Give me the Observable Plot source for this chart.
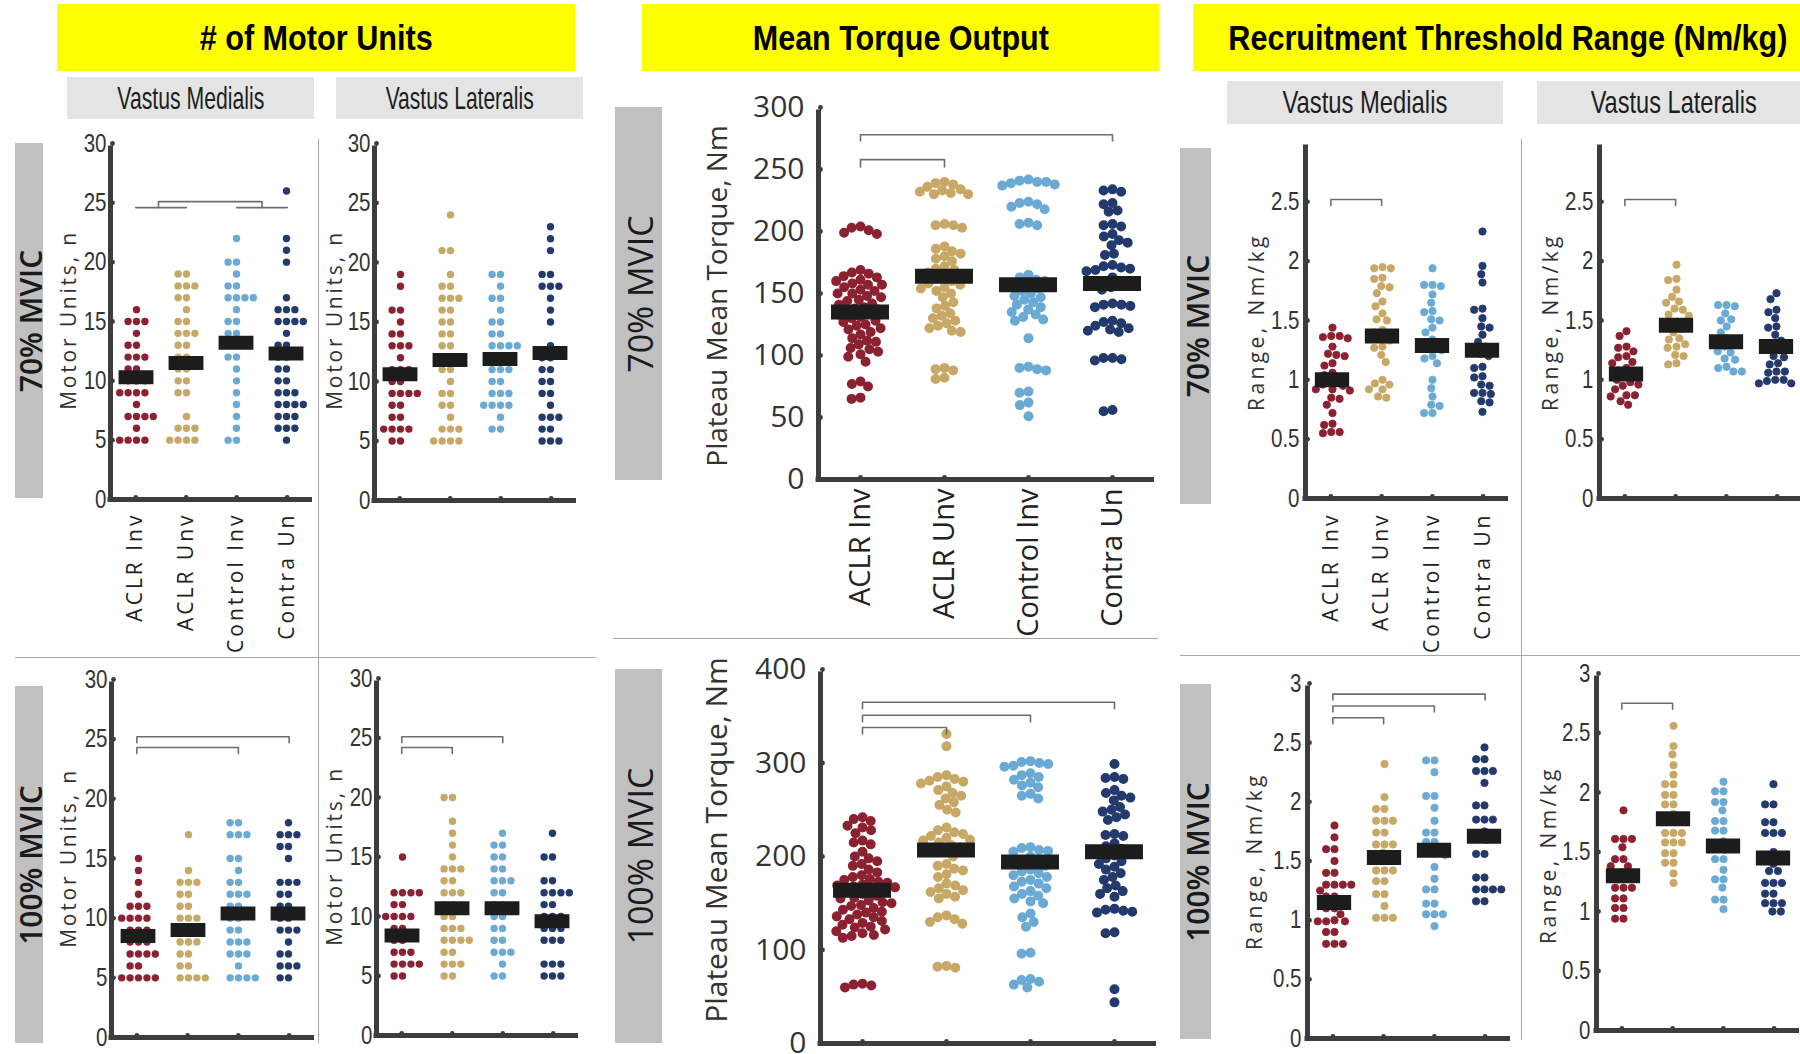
<!DOCTYPE html>
<html><head><meta charset="utf-8">
<script src="https://cdn.jsdelivr.net/npm/d3@7"></script>
<script src="https://cdn.jsdelivr.net/npm/@observablehq/plot@0.6"></script>
<style>
body{margin:0;background:#fff;}
#root{position:relative;width:1800px;height:1054px;overflow:hidden;background:#fff;font-family:"Open Sans",sans-serif;}
.hdr{position:absolute;background:#ffff00;display:flex;align-items:center;justify-content:center;white-space:nowrap;}
.hdr span{display:inline-block;font-family:"Liberation Sans Narrow","Liberation Sans",Arial,sans-serif;font-weight:bold;font-size:35px;color:#000;}
.sub{position:absolute;background:#e4e4e4;display:flex;align-items:center;justify-content:center;white-space:nowrap;overflow:visible;}
.sub span{display:inline-block;font-family:"Liberation Sans Narrow","Liberation Sans",sans-serif;font-size:32px;color:#1e1e1e;}
.rowbox{position:absolute;background:#c0c0c0;}
.rot{position:absolute;white-space:nowrap;transform:translate(-50%,-50%) rotate(-90deg);}
.sep{position:absolute;background:#a8a8a8;}
.pl{position:absolute;}
.pl svg{overflow:visible;max-width:none;background:transparent;}
</style></head>
<body><div id="root"></div>
<script>
// ---------- data ----------
const groups = ["ACLR Inv", "ACLR Unv", "Control Inv", "Contra Un"];
const groupColors = ["#8c2131", "#c8a866", "#6aaad5", "#243a6d"];

// # of motor units, 70% MVIC
const mu70VM = [
  [16,15,15,15,14,13,13,12,12,12,11,11,10,10,10,9,9,9,9,8,7,7,7,7,6,5,5,5,5],
  [19,19,18,18,18,17,17,16,15,15,14,14,14,13,13,12,12,11,11,10,10,9,9,7,6,6,6,5,5,5,5],
  [22,20,20,19,18,18,17,17,17,17,16,15,15,14,14,13,13,13,12,12,11,10,9,8,7,6,5,5],
  [26,22,21,20,17,16,16,16,15,15,15,15,14,13,13,12,12,11,11,10,10,9,9,9,8,8,8,8,7,7,7,6,6,6,5]
];
const mu70VL = [
  [19,18,16,16,15,14,14,13,13,13,12,11,11,11,10,10,9,9,9,9,8,8,7,7,6,6,6,6,5,5],
  [24,21,21,19,18,18,17,17,17,16,16,15,15,14,14,13,13,12,11,11,10,9,9,8,8,7,6,6,6,5,5,5,5],
  [19,19,18,17,17,16,15,15,14,14,13,13,13,13,12,12,11,11,11,10,10,9,9,9,8,8,8,8,7,6,6],
  [23,22,21,19,19,18,18,18,17,16,15,13,12,12,11,11,10,10,9,9,8,7,7,7,6,6,5,5,5]
];
// # of motor units, 100% MVIC
const mu100VM = [
  [15,14,13,12,11,11,11,10,10,10,10,9,9,9,8,8,8,7,7,7,7,6,6,5,5,5,5,5],
  [17,14,13,13,13,12,12,11,11,10,10,10,9,9,9,8,8,8,7,7,6,6,5,5,5,5],
  [18,18,17,17,17,15,15,14,13,13,12,12,12,11,11,10,10,9,9,8,8,8,7,7,7,6,5,5,5,5],
  [18,17,17,17,16,16,15,13,13,13,12,12,11,11,10,10,9,9,9,8,7,7,6,6,6,5,5]
];
const mu100VL = [
  [15,12,12,12,12,11,11,10,10,10,10,9,9,8,8,7,7,7,6,6,6,6,5,5],
  [20,20,18,17,16,15,14,14,14,13,13,12,12,12,11,11,10,10,9,9,9,8,8,8,8,7,7,6,6,6,5,5],
  [17,16,16,15,15,14,14,13,13,13,12,12,11,11,10,10,9,9,8,8,7,7,7,6,5,5],
  [17,15,15,13,13,12,12,12,12,11,11,10,10,10,9,9,9,8,8,8,6,6,6,5,5,5]
];
// plateau mean torque (Nm)
const tq70 = [
  [204,203,201,199,198,169,167,166,164,163,161,160,158,157,157,155,153,152,150,150,148,147,145,144,142,141,139,138,137,136,134,133,131,130,128,127,125,124,122,121,119,117,114,112,111,109,106,105,103,101,99,95,79,77,75,66,65],
  [240,239,238,236,234,233,232,231,230,230,206,205,205,203,188,186,184,182,180,178,176,172,170,169,167,166,164,162,160,158,157,155,154,152,150,147,143,140,138,134,132,130,128,126,124,122,120,119,90,89,88,82,81],
  [242,241,240,240,239,238,237,224,223,222,220,218,207,206,205,165,163,161,160,158,157,155,154,152,150,148,147,145,143,141,139,137,135,133,131,129,128,114,91,90,89,88,71,70,62,60,51],
  [234,233,232,223,222,217,216,206,205,204,198,196,193,191,189,182,181,173,172,171,170,169,168,163,160,158,156,155,153,142,141,141,140,139,128,127,126,124,122,121,120,119,98,98,97,96,56,55]
];
const tq100 = [
  [242,240,238,233,231,228,225,217,215,213,205,200,198,195,192,190,186,183,180,178,176,175,173,172,170,169,168,167,165,162,160,158,156,155,153,151,150,148,147,145,143,141,140,138,136,135,133,131,129,127,125,124,122,120,118,116,115,113,64,63,62,60],
  [331,318,287,285,283,281,280,278,275,271,268,265,262,258,255,250,247,231,228,226,224,222,220,218,217,215,212,210,205,200,192,190,187,185,181,178,171,169,166,164,162,160,157,155,137,135,133,130,128,83,82,81],
  [302,301,300,299,297,296,289,287,285,282,279,276,274,267,265,262,210,209,207,206,205,200,196,193,190,186,184,182,180,178,175,173,171,168,166,163,160,158,155,152,150,139,135,130,125,97,96,69,68,66,63,60],
  [299,285,284,283,271,268,265,263,260,253,250,248,245,242,239,224,223,222,214,211,208,205,201,198,195,192,189,186,182,178,175,169,166,163,160,157,144,143,142,141,140,119,118,58,44]
];
// recruitment threshold range (Nm/kg)
const rt70VM = [
  [1.44,1.37,1.37,1.36,1.35,1.28,1.22,1.21,1.20,1.14,1.12,1.06,1.04,1.01,0.99,0.96,0.95,0.92,0.92,0.91,0.85,0.84,0.79,0.72,0.63,0.62,0.56,0.56,0.55],
  [1.95,1.94,1.94,1.86,1.85,1.79,1.78,1.73,1.66,1.62,1.56,1.51,1.50,1.42,1.40,1.35,1.33,1.28,1.27,1.21,1.15,1.00,0.97,0.96,0.92,0.92,0.86,0.85],
  [1.94,1.80,1.80,1.79,1.72,1.65,1.58,1.57,1.51,1.50,1.44,1.40,1.34,1.30,1.27,1.25,1.20,1.18,1.14,1.00,0.93,0.86,0.79,0.78,0.72,0.72],
  [2.25,1.96,1.89,1.82,1.60,1.59,1.52,1.45,1.44,1.38,1.32,1.28,1.22,1.20,1.11,1.10,1.03,1.02,0.96,0.95,0.89,0.89,0.88,0.82,0.81,0.73]
];
const rt70VL = [
  [1.41,1.37,1.28,1.27,1.24,1.20,1.19,1.15,1.14,1.10,1.08,1.05,1.03,1.00,0.98,0.96,0.95,0.92,0.87,0.87,0.86,0.82,0.79],
  [1.97,1.85,1.84,1.76,1.70,1.66,1.65,1.60,1.59,1.55,1.54,1.49,1.47,1.43,1.40,1.35,1.34,1.30,1.28,1.27,1.21,1.20,1.14,1.13],
  [1.63,1.63,1.62,1.56,1.51,1.50,1.45,1.40,1.35,1.33,1.30,1.28,1.24,1.23,1.18,1.17,1.11,1.10,1.07,1.07],
  [1.73,1.68,1.59,1.57,1.52,1.45,1.44,1.38,1.33,1.30,1.25,1.20,1.19,1.14,1.13,1.07,1.07,1.06,1.00,1.00,0.99,0.97,0.97]
];
const rt100VM = [
  [1.80,1.70,1.60,1.60,1.50,1.40,1.40,1.30,1.30,1.30,1.30,1.25,1.20,1.20,1.10,1.10,1.05,1.00,0.99,0.99,0.99,0.90,0.90,0.80,0.80,0.80],
  [2.32,2.04,1.94,1.94,1.84,1.84,1.84,1.74,1.74,1.64,1.64,1.64,1.57,1.52,1.50,1.42,1.42,1.42,1.33,1.33,1.22,1.22,1.12,1.02,1.02,1.02],
  [2.35,2.35,2.25,2.05,2.05,1.95,1.84,1.74,1.74,1.66,1.66,1.60,1.58,1.55,1.45,1.35,1.26,1.26,1.14,1.14,1.05,1.05,1.05,0.95],
  [2.46,2.36,2.36,2.26,2.26,2.26,2.16,1.97,1.97,1.85,1.85,1.85,1.75,1.70,1.68,1.56,1.56,1.36,1.36,1.26,1.26,1.26,1.26,1.16,1.16]
];
const rt100VL = [
  [1.85,1.61,1.61,1.61,1.54,1.44,1.44,1.38,1.38,1.33,1.30,1.27,1.20,1.20,1.20,1.11,1.11,1.03,1.03,0.94,0.94],
  [2.56,2.39,2.32,2.23,2.15,2.07,2.07,1.98,1.98,1.90,1.90,1.82,1.78,1.75,1.66,1.66,1.66,1.58,1.58,1.58,1.49,1.49,1.41,1.41,1.32,1.24],
  [2.09,2.01,2.01,1.92,1.92,1.85,1.76,1.76,1.68,1.68,1.59,1.55,1.52,1.44,1.44,1.35,1.27,1.27,1.20,1.10,1.10,1.02],
  [2.07,1.90,1.90,1.75,1.75,1.66,1.66,1.66,1.50,1.45,1.40,1.34,1.34,1.24,1.24,1.24,1.15,1.15,1.07,1.07,1.07,1.00,1.00]
];

// group means and mean±SD ends [mean, low, high] per group
const mu70VMStats  = [[10.3,6.8,13.8],[11.5,6.6,16.2],[13.2,9.0,17.4],[12.3,7.7,17.2]];
const mu70VLStats  = [[10.6,7.1,14.0],[11.8,6.7,16.5],[11.9,8.1,15.5],[12.4,7.3,17.7]];
const mu100VMStats = [[8.5,6.0,11.1],[9.0,6.0,11.9],[10.4,6.4,14.3],[10.4,6.6,14.3]];
const mu100VLStats = [[8.4,6.1,10.7],[10.7,6.9,14.4],[10.7,7.1,14.0],[9.6,6.6,12.8]];
const tq70Stats    = [[135,104,166],[164,126,203],[157,107,206],[158,114,202]];
const tq100Stats   = [[164,121,205],[207,151,262],[194,130,258],[205,151,260]];
const rt70VMStats  = [[1.00,0.75,1.24],[1.37,1.04,1.70],[1.29,0.99,1.59],[1.25,0.90,1.59]];
const rt70VLStats  = [[1.05,0.90,1.20],[1.46,1.25,1.66],[1.32,1.17,1.46],[1.28,1.07,1.49]];
const rt100VMStats = [[1.15,0.88,1.42],[1.53,1.23,1.83],[1.59,1.19,2.00],[1.71,1.33,2.09]];
const rt100VLStats = [[1.30,1.11,1.48],[1.78,1.46,2.10],[1.55,1.27,1.83],[1.45,1.20,1.70]];

// significance brackets: [from group, to group, bracket height, leg end]
const mu70VMBr  = [[0,1,24.6,24.6],[2,3,24.6,24.6],[0.45,2.5,25.1,24.6]];
const mu100VMBr = [[0,2,24.3,23.8],[0,3,25.2,24.7]];
const mu100VLBr = [[0,1,24.2,23.7],[0,2,25.1,24.6]];
const tq70Br    = [[0,3,278,273],[0,1,258,252]];
const tq100Br   = [[0,3,365,358],[0,2,351,344],[0,1,338,331]];
const rt70VMBr  = [[0,1,2.52,2.47]];
const rt70VLBr  = [[0,1,2.52,2.47]];
const rt100VMBr = [[0,3,2.91,2.86],[0,2,2.81,2.76],[0,1,2.71,2.66]];
const rt100VLBr = [[0,1,2.75,2.70]];

const muTicks = [0,5,10,15,20,25,30];
const tq70Ticks = [0,50,100,150,200,250,300];
const tq100Ticks = [0,100,200,300,400];
const rt70Ticks = [0,0.5,1,1.5,2,2.5];
const rt100Ticks = [0,0.5,1,1.5,2,2.5,3];

// ---------- font check ----------
const cv = document.createElement("canvas").getContext("2d");
cv.font = "24px 'Liberation Sans Narrow', monospace";
const wN = cv.measureText("0123456789").width;
cv.font = "24px monospace";
const wM = cv.measureText("0123456789").width;
const hasNarrow = Math.abs(wN - wM) > 0.5;
const narrow = hasNarrow ? "'Liberation Sans Narrow',sans-serif" : "'Liberation Sans',sans-serif";
const narrowScale = hasNarrow ? 1 : 0.82;

// ---------- layout ----------
const root = document.getElementById("root");
function div(cls, css, html) {
  const d = document.createElement("div");
  d.className = cls;
  Object.assign(d.style, css);
  if (html != null) d.innerHTML = html;
  root.appendChild(d);
  return d;
}
const px = v => v + "px";
function fitSpan(d, target) {
  const s = d.querySelector("span");
  const real = s.getBoundingClientRect().width;
  s.style.transform = `scaleX(${(target / real).toFixed(3)})`;
}

// separators
div("sep", {left: px(318), top: px(139), width: "1px", height: px(904)});
div("sep", {left: px(15), top: px(657), width: px(581), height: "1px"});
div("sep", {left: px(613), top: px(638), width: px(545), height: "1px"});
div("sep", {left: px(1521), top: px(139), width: "1px", height: px(901)});
div("sep", {left: px(1180), top: px(655), width: px(620), height: "1px"});

// headers
const hdrs = [
  [57, 4, 518, 67, "# of Motor Units", 233],
  [642, 4, 517, 67, "Mean Torque Output", 296],
  [1193, 4, 630, 67, "Recruitment Threshold Range (Nm/kg)", 559]
];
for (const [x, y, w, h, t, tw] of hdrs) {
  const d = div("hdr", {left: px(x), top: px(y), width: px(w), height: px(h)}, `<span>${t}</span>`);
  fitSpan(d, tw);
}

// muscle sub-headers
const subs = [
  [67, 77, 247, 42, "Vastus Medialis", 147],
  [336, 77, 247, 42, "Vastus Lateralis", 148],
  [1227, 81, 276, 43, "Vastus Medialis", 165],
  [1537, 81, 274, 43, "Vastus Lateralis", 166]
];
for (const [x, y, w, h, t, tw] of subs) {
  const d = div("sub", {left: px(x), top: px(y), width: px(w), height: px(h)}, `<span>${t}</span>`);
  fitSpan(d, tw);
}

// row labels
const rows = [
  [15, 143, 28, 355, "70% MVIC", 30, 600],
  [15, 686, 28, 357, "100% MVIC", 30, 600],
  [615, 107, 47, 373, "70% MVIC", 34, 400],
  [615, 669, 47, 374, "100% MVIC", 34, 400],
  [1180, 148, 31, 356, "70% MVIC", 30, 600],
  [1180, 684, 31, 355, "100% MVIC", 30, 600]
];
for (const [x, y, w, h, t, fs, fw] of rows) {
  div("rowbox", {left: px(x), top: px(y), width: px(w), height: px(h)});
  div("rot", {left: px(x + w / 2 + 1), top: px(y + h / 2), fontSize: px(fs), fontWeight: fw, color: "#1a1a1a", fontFamily: "'Open Sans',sans-serif"}, t);
}

// y-axis titles
const ytitles = [
  [68, 320, "Motor Units, n", 21, 2.8],
  [334, 320, "Motor Units, n", 21, 2.8],
  [68, 858, "Motor Units, n", 21, 2.8],
  [334, 856, "Motor Units, n", 21, 2.8],
  [716, 296, "Plateau Mean Torque, Nm", 28, 0],
  [715, 840, "Plateau Mean Torque, Nm", 30, 0],
  [1256, 322, "Range, Nm/kg", 21, 3.4],
  [1550, 322, "Range, Nm/kg", 21, 3.4],
  [1254, 861, "Range, Nm/kg", 21, 3.4],
  [1548, 855, "Range, Nm/kg", 21, 3.4]
];
for (const [x, y, t, fs, ls] of ytitles) {
  div("rot", {left: px(x), top: px(y), fontSize: px(fs), letterSpacing: px(ls), color: "#333", fontFamily: "'Open Sans',sans-serif"}, t);
}

// ---------- panels ----------
const axisColor = "#3d3d3d";

function drawPanel(p) {
  const ml = 90, mr = 10, mt = 20, mb = 160;
  const W = p.x1 - p.x0, H = p.y1 - p.y0;
  const width = W + ml + mr, height = H + mt + mb;
  const pts = [];
  p.values.forEach((arr, gi) => arr.forEach(v => pts.push({g: groups[gi], v})));
  const st = p.stats.map((s, i) => ({g: groups[i], mean: s[0], lo: s[1], hi: s[2]}));
  const band = W / 4;
  const common = {width, height, marginLeft: ml, marginRight: mr, marginTop: mt, marginBottom: mb,
    style: {background: "transparent", overflow: "visible"}};

  // dots: the dodge layout uses radius r; a same-colour outline widens the visible dot so dense groups overlap
  const dotOpts = {fx: "g", y: "v", r: p.r, fill: "g", padding: p.pad};
  if (p.outline) Object.assign(dotOpts, {stroke: "g", strokeWidth: p.outline});
  const dots = Plot.plot({
    ...common,
    fx: {domain: groups, padding: 0, axis: null, label: null},
    y: {domain: [0, p.ymax], axis: null},
    color: {domain: groups, range: groupColors},
    marks: [
      Plot.dot(pts, Plot.dodgeX("middle", dotOpts)),
      Plot.ruleX(st, {fx: "g", y1: "lo", y2: "hi", stroke: "#141414", strokeWidth: 3}),
      Plot.tickY(st, {fx: "g", y: "mean", stroke: "#1c1c1c", strokeWidth: p.barH,
        insetLeft: band * p.barInset, insetRight: band * p.barInset})
    ]
  });

  const brPts = [];
  (p.brackets || []).forEach(([a, b, v, leg], k) => {
    brPts.push({id: k, x: a, y: leg}, {id: k, x: a, y: v}, {id: k, x: b, y: v}, {id: k, x: b, y: leg});
  });
  const catIdx = [0, 1, 2, 3];
  const marks = [
    Plot.line(brPts, {x: "x", y: "y", z: "id", stroke: "#6e6e6e", strokeWidth: 1.6}),
    Plot.ruleY([0], {stroke: axisColor, strokeWidth: 5, insetLeft: -2.5}),
    Plot.ruleX([-0.5], {y1: 0, y2: p.ymax, stroke: axisColor, strokeWidth: 5, insetBottom: -2.5}),
    Plot.dot(p.ticks, {x: () => -0.5, y: d => d, r: 2.4, fill: axisColor, dx: 2}),
    Plot.dot(catIdx, {x: d => d, y: () => 0, r: 2.4, fill: axisColor, dy: -2}),
    Plot.text(p.ticks, {x: () => -0.5, y: d => d, text: d => String(d), textAnchor: "end",
      dx: p.tickGap, fontFamily: p.tickFont, fontSize: p.tickSize, fill: "#333"})
  ];
  if (p.cats) {
    marks.push(Plot.text(catIdx, {x: d => d, y: () => 0, text: d => groups[d], rotate: -90,
      textAnchor: "end", lineAnchor: "middle", dy: p.catGap, fontFamily: "'Open Sans',sans-serif",
      fontSize: p.catSize, fill: "#222"}));
  }
  const over = Plot.plot({
    ...common,
    x: {domain: [-0.5, 3.5], axis: null},
    y: {domain: [0, p.ymax], axis: null},
    marks
  });
  for (const svg of [dots, over]) {
    const w = document.createElement("div");
    w.className = "pl";
    Object.assign(w.style, {left: px(p.x0 - ml), top: px(p.y0 - mt), width: px(width), height: px(height)});
    w.appendChild(svg);
    root.appendChild(w);
  }
  // text fine-tuning once in the document
  const tickStrs = p.ticks.map(String);
  over.querySelectorAll("text").forEach(t => {
    if (p.cats && p.catSpacing && groups.includes(t.textContent)) t.style.letterSpacing = p.catSpacing + "px";
    if (p.squeeze !== 1 && tickStrs.includes(t.textContent)) {
      const len = t.getComputedTextLength();
      if (len > 0) {
        t.setAttribute("textLength", (len * p.squeeze).toFixed(2));
        t.setAttribute("lengthAdjust", "spacingAndGlyphs");
      }
    }
  });
}

const muStyle = {ymax: 30, ticks: muTicks, r: 3.7, pad: 0, barH: 14, barInset: 0.15,
  tickFont: narrow, tickSize: 25, tickGap: -4, squeeze: narrowScale, catSize: 21, catGap: 13, catSpacing: 3};
const tqStyle = {r: 4, outline: 2, pad: 0, barH: 15, barInset: 0.155,
  tickFont: "'Open Sans',sans-serif", tickSize: 30, tickGap: -14, squeeze: 1, catSize: 29, catGap: 9, catSpacing: 0};
const rtStyle = {ymax: 3, r: 3.7, outline: 0.8, pad: 0, barH: 15, barInset: 0.155,
  tickFont: narrow, tickSize: 25, tickGap: -6, squeeze: narrowScale, catSize: 21, catGap: 14, catSpacing: 3};

const panels = [
  {...muStyle, x0: 110, x1: 312, y0: 143, y1: 499, values: mu70VM, stats: mu70VMStats, brackets: mu70VMBr, cats: true},
  {...muStyle, x0: 374, x1: 576, y0: 143, y1: 500, values: mu70VL, stats: mu70VLStats, brackets: []},
  {...muStyle, x0: 111, x1: 314, y0: 679, y1: 1037, values: mu100VM, stats: mu100VMStats, brackets: mu100VMBr},
  {...muStyle, x0: 376, x1: 578, y0: 678, y1: 1035, values: mu100VL, stats: mu100VLStats, brackets: mu100VLBr},
  {...tqStyle, ymax: 300, ticks: tq70Ticks, x0: 818, x1: 1154, y0: 107, y1: 479, values: tq70, stats: tq70Stats, brackets: tq70Br, cats: true},
  {...tqStyle, ymax: 400, ticks: tq100Ticks, x0: 820, x1: 1156, y0: 669, y1: 1043, values: tq100, stats: tq100Stats, brackets: tq100Br},
  {...rtStyle, ticks: rt70Ticks, x0: 1305, x1: 1508, y0: 142, y1: 498, values: rt70VM, stats: rt70VMStats, brackets: rt70VMBr, cats: true},
  {...rtStyle, ticks: rt70Ticks, x0: 1599, x1: 1802, y0: 142, y1: 498, values: rt70VL, stats: rt70VLStats, brackets: rt70VLBr},
  {...rtStyle, ticks: rt100Ticks, x0: 1307, x1: 1510, y0: 683, y1: 1038, values: rt100VM, stats: rt100VMStats, brackets: rt100VMBr},
  {...rtStyle, ticks: rt100Ticks, x0: 1596, x1: 1799, y0: 673, y1: 1030, values: rt100VL, stats: rt100VLStats, brackets: rt100VLBr}
];
panels.forEach(drawPanel);
</script>
</body></html>
